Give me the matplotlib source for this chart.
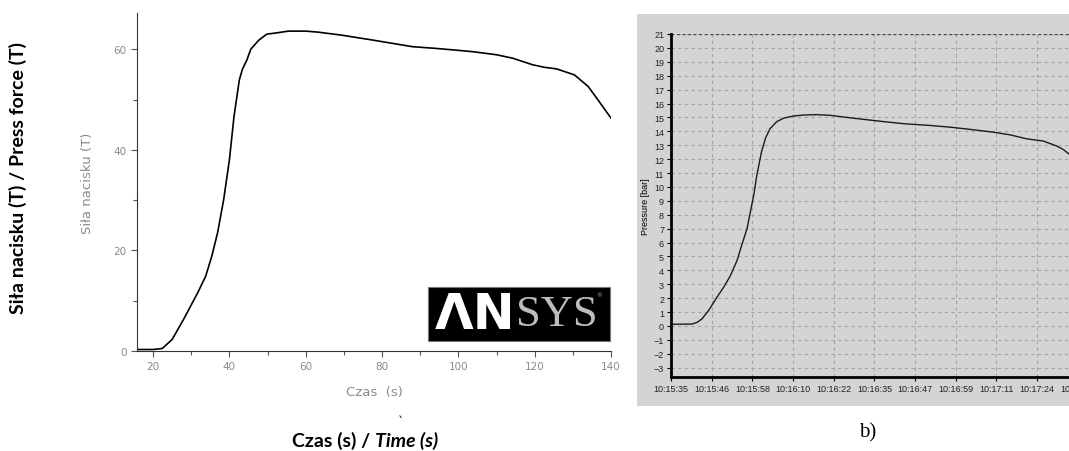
import matplotlib
matplotlib.use('Agg')
import matplotlib.pyplot as plt
from matplotlib.patches import Rectangle
import numpy as np

# ---- dane: wykres a) symulacja ANSYS, sila nacisku [T] w funkcji czasu [s]
czas_a = [15.8, 18, 20, 22.4, 25, 28, 31.7, 33.8, 35.4, 36.9, 38.5, 40, 41.2, 42.6,
          43.4, 44.6, 45.6, 47.7, 49.8, 51.9, 55.5, 60, 63.2, 69.4, 77.7, 88, 93.5,
          99.7, 103.9, 110, 114.3, 119.5, 122.6, 125.7, 130.4, 134, 136.6, 140]
sila_a = [0.3, 0.3, 0.3, 0.5, 2.3, 6.3, 11.6, 14.9, 18.9, 23.5, 30.1, 38, 46.6, 53.9,
          56, 57.9, 60, 61.8, 63, 63.2, 63.6, 63.6, 63.4, 62.8, 61.8, 60.5, 60.2,
          59.8, 59.5, 58.9, 58.2, 56.9, 56.4, 56.1, 54.9, 52.6, 49.9, 46.3]

# ---- dane: wykres b) pomiar, cisnienie [bar], czas w s od 10:15:35
czas_b = [0.0, 6.3, 7.8, 9.2, 11.2, 13.7, 15.7, 17.7, 19.7, 21.1, 22.7, 23.7, 24.7,
          25.6, 27.0, 28.2, 29.6, 31.6, 33.7, 36.6, 39.6, 43.5, 47.5, 52.5, 57.5,
          63.4, 69.4, 77.4, 83.3, 89.3, 96.2, 101.2, 106.2, 111.2, 115.2, 117.1,
          118.8, 119.6]
cisn_b = [0.12, 0.14, 0.26, 0.5, 1.1, 2.06, 2.78, 3.6, 4.7, 5.8, 7.0, 8.2, 9.4,
          10.8, 12.5, 13.5, 14.2, 14.7, 14.95, 15.1, 15.17, 15.2, 15.15, 15.0, 14.86,
          14.7, 14.55, 14.42, 14.3, 14.14, 13.94, 13.75, 13.46, 13.3, 12.94, 12.7,
          12.38, 12.2]
etykiety_b = ['10:15:35', '10:15:46', '10:15:58', '10:16:10', '10:16:22', '10:16:35',
              '10:16:47', '10:16:59', '10:17:11', '10:17:24', '10:17:36']
krok_b = 12.15  # sekund na jedna podzialke

fig = plt.figure(figsize=(10.69, 4.52), dpi=100)

# ================= wykres a) =================
ax1 = fig.add_axes([0.1282, 0.2212, 0.4434, 0.7478])
ax1.plot(czas_a, sila_a, color='black', lw=1.2)
ax1.set_xlim(15.8, 140)
ax1.set_ylim(0, 67.2)
ax1.spines['top'].set_visible(False)
ax1.spines['right'].set_visible(False)
ax1.spines['left'].set_color('#333333')
ax1.spines['bottom'].set_color('#333333')
ax1.set_xticks([20, 40, 60, 80, 100, 120, 140])
ax1.set_xticks([30, 50, 70, 90, 110, 130], minor=True)
ax1.set_yticks([0, 20, 40, 60])
ax1.set_yticks([10, 30, 50], minor=True)
ax1.tick_params(which='both', direction='out', colors='#555555', labelcolor='#8a8a8a',
                labelsize=7.5, length=4, width=0.8)
ax1.tick_params(which='minor', length=3)
ax1.set_xlabel('Czas  (s)', color='#8a8a8a', fontsize=9.5, labelpad=10)
ax1.set_ylabel('Siła nacisku (T)', color='#8a8a8a', fontsize=9.5, labelpad=14)

# logo ANSYS
fig.patches.append(Rectangle((0.4004, 0.2434), 0.1703, 0.1195, transform=fig.transFigure,
                             facecolor='black', edgecolor='#777777', lw=0.8, zorder=3))
fig.text(0.4065, 0.303, 'ΛN', color='white', fontsize=36, fontweight='bold',
         family='DejaVu Sans', va='center', ha='left', zorder=4)
fig.text(0.4830, 0.303, 'SYS', color='#bdbdbd', fontsize=32, family='Liberation Serif',
         va='center', ha='left', zorder=4)
fig.text(0.5600, 0.345, '®', color='#bdbdbd', fontsize=4, va='center', ha='center', zorder=4)

# podpisy zewnetrzne
fig.text(0.017, 0.606, 'Siła nacisku (T) / Press force (T)', rotation=90, fontsize=14,
         fontweight='bold', family='Lato', ha='center', va='center')
fig.text(0.2735, 0.024, 'Czas (s) /', fontsize=14, fontweight='bold', family='Lato',
         ha='left', va='center')
fig.text(0.3505, 0.024, 'Time (s)', fontsize=14, fontweight='bold', style='italic',
         family='Lato', ha='left', va='center')
fig.text(0.375, 0.066, '`', fontsize=9, ha='center', va='center')

# ================= wykres b) =================
szary = '#d4d4d4'
fig.patches.append(Rectangle((0.5959, 0.0996), 0.41, 0.867, transform=fig.transFigure,
                             facecolor=szary, edgecolor='none', zorder=0))
ax2 = fig.add_axes([0.6277, 0.1637, 0.392, 0.7589])
ax2.set_zorder(2)
ax2.set_facecolor(szary)
ax2.set_xlim(0, 10.3 * krok_b)
ax2.set_ylim(-3.67, 21)
pozycje = np.arange(len(etykiety_b)) * krok_b
ax2.set_xticks(pozycje)
ax2.set_xticklabels(etykiety_b)
ax2.set_yticks(range(-3, 22))
ax2.grid(True, color='#a4a4a4', ls=(0, (3, 3)), lw=0.8)
ax2.axhline(21, color='#444444', ls=(0, (2, 2)), lw=1.0)
ax2.plot(czas_b, cisn_b, color='#1a1a1a', lw=1.0)
for s in ['top', 'right']:
    ax2.spines[s].set_visible(False)
ax2.spines['left'].set_linewidth(2)
ax2.spines['bottom'].set_linewidth(2)
ax2.tick_params(direction='out', length=3, width=0.8, labelsize=6.5, pad=2,
                labelcolor='#222222')
for t in ax2.get_xticklabels() + ax2.get_yticklabels():
    t.set_family('Liberation Sans')
ax2.set_ylabel('Pressure [bar]', fontsize=6.5, family='Liberation Sans', labelpad=3)
fig.text(0.812, 0.042, 'b)', fontsize=15, family='Liberation Serif', ha='center',
         va='center')

fig.savefig('out.png', dpi=100)
